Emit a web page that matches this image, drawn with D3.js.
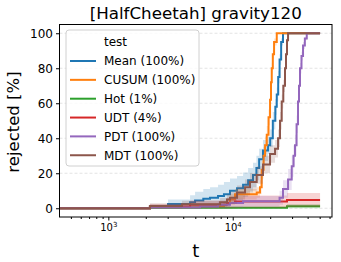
<!DOCTYPE html>
<html lang="en">
<head>
    <meta charset="UTF-8">
    <title>gravity120</title>
    <script src="https://cdn.jsdelivr.net/npm/d3@7/dist/d3.min.js"></script>
    <style>
        body{margin:0;background:#fff;}
        text{font-family:"DejaVu Sans",sans-serif;}
    </style>
</head>
<body>
    <svg width="341" height="262"></svg>
    <script>
        // each row: [t, rejected %, band half-width]
        var mean  = [[405,0,0],[2160,1,1],[3020,2.5,2.5],[4540,3.5,4],[4980,4.5,5],[5800,5.5,5.5],[6570,6,6],[7620,7,6.5],
                     [8500,8,7],[9510,10,7],[10830,11.5,7],[12110,13.5,7],[13290,16,7],[14560,19,7],[15500,23,7],
                     [16300,28,6],[17520,33,6],[19230,36,5],[20000,40,5],[21000,50,5],[22000,58,4.5],[22590,65,4],
                     [23200,75,3.5],[23800,85,3],[24500,95,2],[25360,100,0],[50350,100,0]];
        var cusum = [[405,0,0],[2160,0.5,1],[5460,1,1.5],[8500,2,2],[8990,3,2.5],[9510,5,3],[10430,8,3],[15590,9,3],
                     [16560,12,4],[17090,22,5],[17700,30,5],[18190,36,5],[18770,42,5],[19400,52,4.5],[19950,62,4],
                     [20300,72,3.5],[20590,80,3],[21000,88,2.5],[21490,95,2],[22590,100,0],[50350,100,0]];
        var hot   = [[405,0,0],[2160,0.3,0.5],[27300,1.2,1.2],[50350,1.2,1.2]];
        var udt   = [[405,0,0],[2160,1,1.5],[4540,2,2.5],[8990,3,3],[10430,3.8,3.5],[27300,4.7,4],[50350,4.7,4]];
        var pdt   = [[405,0,0],[2160,0.5,1],[5460,1,1.5],[7620,2,2],[9510,3,2.5],[12110,4,3],[23140,4,3],[23800,6,4],
                     [25360,11,5],[27840,16.5,6],[29800,24,6],[30800,30,6],[31680,36,6],[32600,48,5],[33490,61,4],
                     [34100,70,3.5],[34750,80,3],[35700,87,2.5],[36740,93,2],[38000,97,1],[39360,100,0],[50350,100,0]];
        var mdt   = [[405,0,0],[2160,1.3,1.5],[3910,2.3,2],[7910,3.4,2.5],[8990,5,3],[9510,6,3.5],[10830,9,4],
                     [12560,12,4.5],[13770,15,5],[15590,19,5],[17520,25,5],[19950,31,5],[21890,34,5],[23140,40,5],
                     [24000,50,5],[24760,61,4],[25500,70,3.5],[26310,80,3],[26800,88,2.5],[27300,96,2],[27840,100,0],
                     [50350,100,0]];

        var names  = ["Mean (100%)","CUSUM (100%)","Hot (1%)","UDT (4%)","PDT (100%)","MDT (100%)"];
        var colors = ["#1f77b4","#ff7f0e","#2ca02c","#d62728","#9467bd","#8c564b"];
        var seriesData = [mean, cusum, hot, udt, pdt, mdt];
        var yTicks = [0,20,40,60,80,100];
        var xMajor = [1000,10000];

        var svg = d3.select("svg");
        // plot box (note: "top" is taken by window.top)
        var box = {left:59.5, right:332, top:24.5, bottom:217};

        var x = d3.scaleLog().domain([405,62800]).range([box.left,box.right]);
        var y = d3.scaleLinear().domain([-5,105]).range([box.bottom,box.top]);

        svg.append("defs").append("clipPath").attr("id","plot")
            .append("rect").attr("x",box.left).attr("y",box.top)
            .attr("width",box.right-box.left).attr("height",box.bottom-box.top);

        //grid
        svg.append("g").selectAll("line").data(yTicks).enter().append("line")
            .attr("x1",box.left).attr("x2",box.right)
            .attr("y1",function(d){return y(d)}).attr("y2",function(d){return y(d)})
            .attr("stroke","#e3e3e3").attr("stroke-width",1.2)
            .attr("stroke-dasharray","3,2");

        var plot = svg.append("g").attr("clip-path","url(#plot)");
        var band = d3.area().curve(d3.curveStepAfter)
            .x(function(d){return x(d[0])})
            .y0(function(d){return y(Math.max(0,d[1]-d[2]))})
            .y1(function(d){return y(Math.min(100,d[1]+d[2]))});
        var line = d3.line().curve(d3.curveStepAfter)
            .x(function(d){return x(d[0])})
            .y(function(d){return y(d[1])});

        seriesData.forEach(function(s,i){
            plot.append("path").attr("d",band(s))
                .attr("fill",colors[i]).attr("fill-opacity",0.2).attr("stroke","none");
            plot.append("path").attr("d",line(s))
                .attr("fill","none").attr("stroke",colors[i]).attr("stroke-width",2);
        });

        //axes
        var minor = [];
        [100,1000,10000].forEach(function(b){
            for(var k=2;k<10;k++){ if(b*k>405 && b*k<62800) minor.push(b*k); }
        });
        svg.append("g").attr("transform","translate(0,"+box.bottom+")")
            .call(d3.axisBottom(x).tickValues(minor).tickSize(2).tickFormat(""))
            .call(function(g){g.select(".domain").remove();});
        var xAxis = svg.append("g").attr("transform","translate(0,"+box.bottom+")")
            .call(d3.axisBottom(x).tickValues(xMajor).tickSize(3.5).tickPadding(3)
                .tickFormat(function(d){return "10"}));
        xAxis.select(".domain").remove();
        xAxis.selectAll(".tick text").attr("font-size",10).attr("fill","#000")
            .append("tspan").attr("dy","-0.5em").attr("font-size",7)
            .text(function(d){return Math.round(Math.log10(d))});

        var yAxis = svg.append("g").attr("transform","translate("+box.left+",0)")
            .call(d3.axisLeft(y).tickValues(yTicks).tickSize(3.5).tickPadding(3));
        yAxis.select(".domain").remove();
        yAxis.selectAll(".tick text").attr("font-size",12).attr("fill","#000");

        svg.append("rect").attr("x",box.left).attr("y",box.top)
            .attr("width",box.right-box.left).attr("height",box.bottom-box.top)
            .attr("fill","none").attr("stroke","#000").attr("stroke-width",1);

        //labels
        svg.append("text").attr("x",(box.left+box.right)/2).attr("y",18.5)
            .attr("text-anchor","middle").attr("font-size",16.7)
            .text("[HalfCheetah] gravity120");
        svg.append("text").attr("x",(box.left+box.right)/2).attr("y",257)
            .attr("text-anchor","middle").attr("font-size",18).text("t");
        svg.append("text").attr("transform","translate(18.5,122)rotate(-90)")
            .attr("text-anchor","middle").attr("font-size",16.5).text("rejected [%]");

        //legend
        var legend = svg.append("g");
        legend.append("rect").attr("x",66).attr("y",30).attr("width",133).attr("height",136)
            .attr("rx",3).attr("fill","#fff").attr("fill-opacity",0.8)
            .attr("stroke","#d0d0d0").attr("stroke-width",1);
        legend.append("text").attr("x",104).attr("y",46).attr("font-size",12).text("test");
        var rows = legend.selectAll("g.row").data(names).enter().append("g")
            .attr("transform",function(d,i){return "translate(0,"+(61+i*18.85)+")"});
        rows.append("line").attr("x1",70).attr("x2",96)
            .attr("stroke",function(d,i){return colors[i]}).attr("stroke-width",2);
        rows.append("text").attr("x",104).attr("y",4.3).attr("font-size",12)
            .text(function(d){return d});
    </script>
</body>
</html>
